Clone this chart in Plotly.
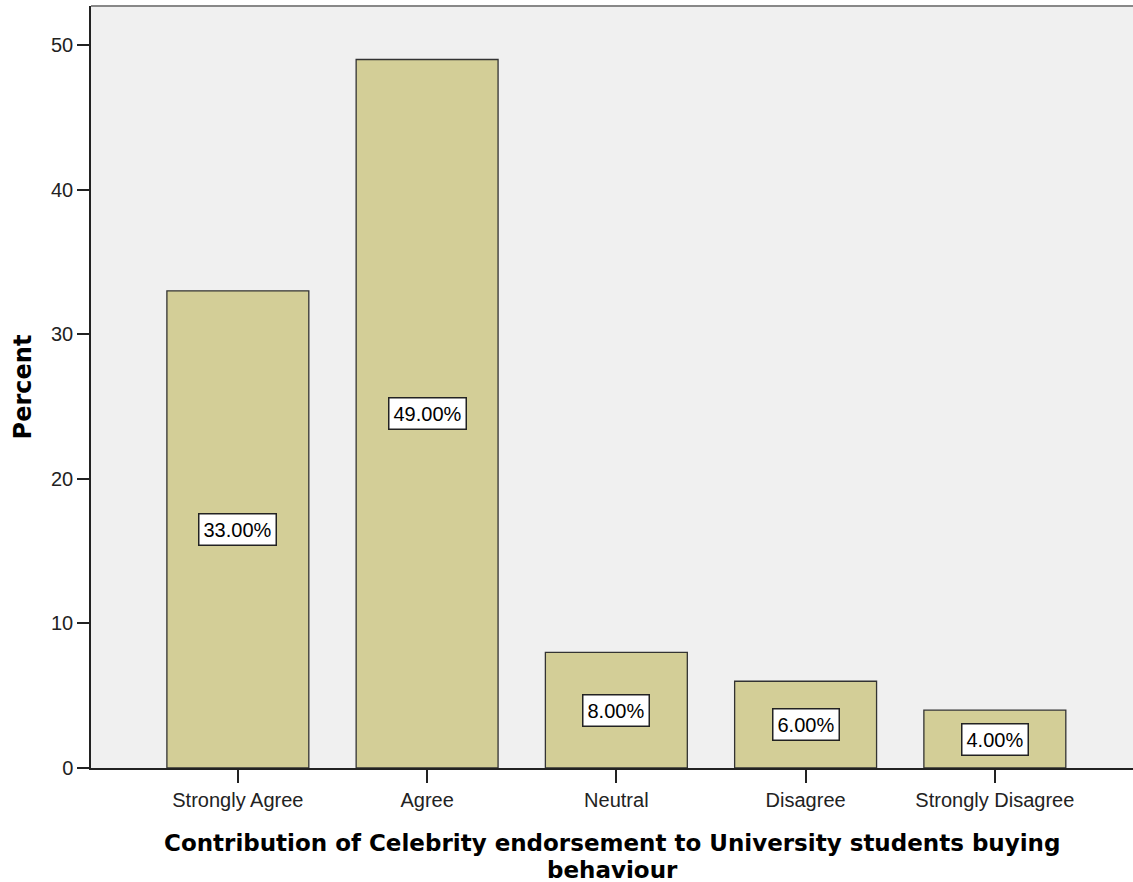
import plotly.graph_objects as go

categories = ["Strongly Agree", "Agree", "Neutral", "Disagree", "Strongly Disagree"]
percent = [33.0, 49.0, 8.0, 6.0, 4.0]
y_ticks = [0, 10, 20, 30, 40, 50]
x_title_lines = ["Contribution of Celebrity endorsement to University students buying", "behaviour"]

fig = go.Figure()
fig.add_trace(go.Bar(
    x=categories, y=percent, width=0.75,
    marker=dict(color="#D3CE97", line=dict(color="#333333", width=1.3)),
    hoverinfo="skip",
))

for c, v in zip(categories, percent):
    fig.add_annotation(
        x=c, y=v / 2, text=f"{v:.2f}%", showarrow=False,
        font=dict(family="Liberation Sans, Arial", size=20, color="#000"),
        bgcolor="white", bordercolor="#222", borderwidth=1.5, borderpad=4,
    )

# x-axis title (two lines, tight spacing)
for txt, yy in zip(x_title_lines, [-0.0984, -0.1339]):
    fig.add_annotation(
        xref="paper", yref="paper", x=0.5, y=yy, text=f"<b>{txt}</b>",
        showarrow=False, xanchor="center", yanchor="middle",
        font=dict(family="DejaVu Sans", size=23, color="#000"),
    )

# top border of plot area
fig.add_shape(type="line", xref="paper", yref="paper", x0=0, x1=1, y0=1, y1=1,
              line=dict(color="#888888", width=2))

fig.update_layout(
    width=1133, height=882,
    margin=dict(l=91, r=0, t=6, b=114),
    paper_bgcolor="white", plot_bgcolor="#F0F0F0",
    showlegend=False, bargap=0.25,
    font=dict(family="Liberation Sans, Arial", color="#222"),
)
fig.update_xaxes(
    range=[-0.776, 4.73], showgrid=False, zeroline=False,
    showline=True, linecolor="#222", linewidth=1.5,
    ticks="outside", ticklen=13, tickcolor="#222", tickwidth=1.5,
    tickfont=dict(size=20, color="#222"),
)
fig.update_yaxes(
    range=[0, 52.7], tickvals=y_ticks, showgrid=False, zeroline=False,
    showline=True, linecolor="#222", linewidth=1.5,
    ticks="outside", ticklen=12, tickcolor="#222", tickwidth=1.5,
    tickfont=dict(size=20, color="#222"),
    title=dict(text="<b>Percent</b>", font=dict(family="DejaVu Sans", size=24, color="#000"), standoff=13),
)

fig.write_html("out.html", config={"displayModeBar": False},
               post_script="document.body.style.margin='0';")
